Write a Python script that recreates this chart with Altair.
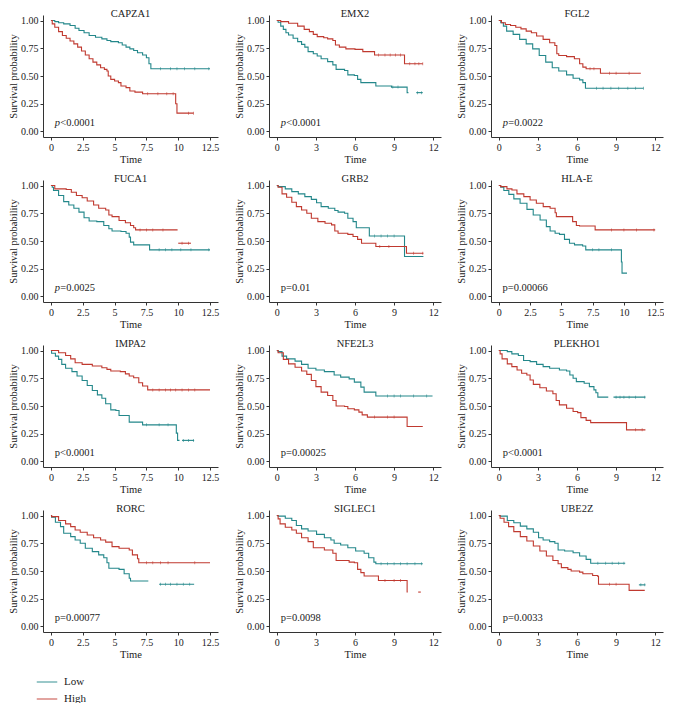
import altair as alt
import pandas as pd

TEAL = "#23878A"
RED = "#C0392F"
FONT = "Liberation Serif"

GENES = ["CAPZA1", "EMX2", "FGL2", "FUCA1", "GRB2", "HLA-E",
         "IMPA2", "NFE2L3", "PLEKHO1", "RORC", "SIGLEC1", "UBE2Z"]
P_REST = ["<0.0001", "<0.0001", "=0.0022", "=0.0025", "=0.01", "=0.00066",
          "<0.0001", "=0.00025", "<0.0001", "=0.00077", "=0.0098", "=0.0033"]
P_ITALIC = [True, True, True, True, False, False,
            False, False, False, False, False, False]
X_MAX = [12.5, 12, 12, 12.5, 12, 12.5, 12.5, 12, 12, 12.5, 12, 12]
TICKS_25 = [0, 2.5, 5, 7.5, 10, 12.5]
TICKS_3 = [0, 3, 6, 9, 12]
Y_TICKS = [0, 0.25, 0.5, 0.75, 1.0]
GROUPS = ["Low", "High"]

# (time, survival) step points; None = break in the drawn curve
CAPZA1_LOW = [(0, 1.0), (0.3, 0.99), (0.6, 0.98), (1.0, 0.97), (1.5, 0.955), (1.9, 0.93), (2.2, 0.91), (2.6, 0.89),
              (3.0, 0.865), (3.5, 0.85), (4.0, 0.835), (4.4, 0.82), (4.7, 0.81), (5.3, 0.80), (5.6, 0.78), (5.9, 0.76),
              (6.2, 0.745), (6.5, 0.73), (6.8, 0.71), (7.2, 0.69), (7.5, 0.665), (7.7, 0.61), (7.85, 0.565), (12.5, 0.565)]
CAPZA1_HIGH = [(0, 1.0), (0.1, 0.97), (0.3, 0.94), (0.6, 0.90), (0.9, 0.865), (1.2, 0.84), (1.5, 0.815), (1.8, 0.79),
               (2.1, 0.76), (2.4, 0.725), (2.7, 0.69), (3.0, 0.655), (3.3, 0.625), (3.6, 0.60), (3.9, 0.575), (4.2, 0.56),
               (4.4, 0.545), (4.5, 0.50), (4.7, 0.47), (5.0, 0.455), (5.3, 0.44), (5.5, 0.41), (5.9, 0.395), (6.2, 0.365),
               (6.6, 0.355), (7.2, 0.34), (9.8, 0.25), (9.9, 0.165), (11.2, 0.165)]
EMX2_LOW = [(0, 1.0), (0.1, 0.985), (0.3, 0.95), (0.5, 0.92), (0.7, 0.89), (0.9, 0.87), (1.25, 0.84), (1.6, 0.81),
            (1.9, 0.785), (2.15, 0.76), (2.4, 0.72), (2.8, 0.70), (3.1, 0.68), (3.4, 0.655), (3.9, 0.63), (4.3, 0.60),
            (4.55, 0.56), (5.2, 0.55), (5.45, 0.51), (5.95, 0.505), (6.2, 0.47), (6.45, 0.44), (7.6, 0.41), (8.8, 0.40),
            (10.0, 0.35), (10.1, 0.35), None, (10.7, 0.35), (11.2, 0.35)]
EMX2_HIGH = [(0, 1.0), (0.3, 0.99), (0.9, 0.975), (1.6, 0.95), (2.1, 0.92), (2.5, 0.90), (2.8, 0.875), (3.1, 0.855),
             (3.6, 0.845), (3.9, 0.835), (4.3, 0.82), (4.5, 0.78), (4.8, 0.76), (5.3, 0.745), (6.0, 0.74), (6.6, 0.72),
             (7.5, 0.69), (9.8, 0.61), (11.2, 0.61)]
FGL2_LOW = [(0, 1.0), (0.15, 0.98), (0.35, 0.95), (0.6, 0.905), (1.1, 0.875), (1.6, 0.83), (2.1, 0.79), (2.6, 0.745),
            (3.1, 0.685), (3.6, 0.625), (4.1, 0.575), (4.6, 0.545), (5.2, 0.51), (5.7, 0.48), (6.2, 0.465), (6.45, 0.44),
            (6.65, 0.39), (11.1, 0.39)]
FGL2_HIGH = [(0, 1.0), (0.2, 0.98), (0.5, 0.965), (0.9, 0.955), (1.3, 0.94), (1.7, 0.925), (2.1, 0.905), (2.5, 0.89),
             (2.9, 0.86), (3.4, 0.83), (3.9, 0.80), (4.3, 0.775), (4.45, 0.70), (4.6, 0.685), (5.2, 0.675), (5.8, 0.655),
             (6.2, 0.61), (6.45, 0.58), (6.7, 0.565), (7.8, 0.525), (10.9, 0.525)]
FUCA1_LOW = [(0, 1.0), (0.1, 0.985), (0.2, 0.955), (0.6, 0.91), (1.0, 0.855), (1.4, 0.825), (1.8, 0.795), (2.2, 0.76),
             (2.6, 0.71), (3.0, 0.68), (3.6, 0.675), (4.15, 0.64), (4.55, 0.61), (4.8, 0.59), (5.5, 0.585), (5.9, 0.57),
             (6.15, 0.535), (6.25, 0.49), (6.5, 0.465), (7.75, 0.42), (12.5, 0.42)]
FUCA1_HIGH = [(0, 1.0), (0.3, 0.97), (1.2, 0.965), (1.6, 0.94), (2.0, 0.91), (2.45, 0.89), (2.85, 0.86), (3.35, 0.825),
              (3.75, 0.795), (4.3, 0.78), (4.55, 0.735), (4.8, 0.72), (5.35, 0.685), (5.85, 0.665), (6.25, 0.64),
              (6.5, 0.62), (6.65, 0.60), (9.95, 0.60), None, (10.0, 0.48), (11.0, 0.48)]
GRB2_LOW = [(0, 1.0), (0.1, 0.99), (0.65, 0.97), (1.15, 0.945), (1.65, 0.925), (2.15, 0.90), (2.65, 0.875), (3.05, 0.845),
            (3.4, 0.81), (3.95, 0.795), (4.45, 0.775), (4.7, 0.76), (5.2, 0.75), (5.45, 0.705), (5.85, 0.675), (6.1, 0.62),
            (7.1, 0.545), (9.8, 0.36), (11.25, 0.36)]
GRB2_HIGH = [(0, 1.0), (0.1, 0.985), (0.4, 0.925), (0.75, 0.895), (1.15, 0.85), (1.5, 0.81), (1.9, 0.78), (2.3, 0.75),
             (2.65, 0.705), (3.15, 0.675), (3.7, 0.66), (4.2, 0.645), (4.45, 0.59), (4.7, 0.57), (5.45, 0.56), (5.85, 0.54),
             (6.2, 0.515), (6.5, 0.48), (7.6, 0.45), (9.95, 0.39), (11.25, 0.39)]
HLAE_LOW = [(0, 1.0), (0.15, 0.985), (0.4, 0.955), (0.8, 0.92), (1.2, 0.88), (1.7, 0.84), (2.25, 0.785), (2.75, 0.735),
            (3.3, 0.69), (3.8, 0.63), (4.1, 0.59), (4.5, 0.57), (4.85, 0.56), (5.25, 0.515), (5.65, 0.48), (6.05, 0.465),
            (6.7, 0.455), (6.95, 0.42), (9.8, 0.31), (9.85, 0.21), (10.25, 0.21)]
HLAE_HIGH = [(0, 1.0), (0.15, 0.99), (0.65, 0.97), (1.05, 0.96), (1.45, 0.925), (2.0, 0.90), (2.5, 0.87), (3.0, 0.84),
             (3.55, 0.81), (4.1, 0.795), (4.5, 0.755), (4.6, 0.72), (5.9, 0.675), (6.2, 0.64), (6.45, 0.635), (7.7, 0.60),
             (12.5, 0.60)]
IMPA2_LOW = [(0, 1.0), (0.05, 0.975), (0.35, 0.95), (0.6, 0.92), (0.85, 0.875), (1.15, 0.84), (1.65, 0.81), (2.05, 0.77),
             (2.45, 0.73), (2.85, 0.685), (3.25, 0.64), (3.65, 0.60), (4.0, 0.57), (4.3, 0.52), (4.7, 0.465), (5.1, 0.46),
             (5.35, 0.415), (6.15, 0.355), (7.2, 0.33), (9.85, 0.255), (9.95, 0.19), (10.1, 0.19), None,
             (10.3, 0.19), (11.25, 0.19)]
IMPA2_HIGH = [(0, 1.0), (0.6, 0.98), (1.15, 0.955), (1.55, 0.925), (1.9, 0.89), (2.45, 0.875), (3.25, 0.86), (4.0, 0.845),
              (4.4, 0.83), (4.7, 0.815), (5.45, 0.81), (5.85, 0.79), (6.15, 0.77), (6.5, 0.755), (6.9, 0.71), (7.2, 0.68),
              (7.6, 0.645), (12.5, 0.645)]
NFE2L3_LOW = [(0, 1.0), (0.1, 0.99), (0.4, 0.95), (0.75, 0.925), (1.4, 0.905), (1.9, 0.875), (2.4, 0.84), (3.0, 0.825),
              (3.65, 0.81), (4.4, 0.78), (4.9, 0.76), (5.55, 0.745), (5.95, 0.715), (6.45, 0.67), (6.7, 0.625), (7.6, 0.59),
              (11.95, 0.59)]
NFE2L3_HIGH = [(0, 1.0), (0.1, 0.98), (0.5, 0.92), (0.9, 0.88), (1.4, 0.85), (1.9, 0.815), (2.3, 0.785), (2.65, 0.73),
               (3.0, 0.675), (3.4, 0.625), (3.9, 0.595), (4.3, 0.55), (4.55, 0.50), (5.2, 0.495), (5.45, 0.475),
               (5.95, 0.465), (6.3, 0.445), (6.55, 0.42), (6.95, 0.40), (10.0, 0.315), (11.2, 0.315)]
PLEKHO1_LOW = [(0, 1.0), (0.65, 0.99), (1.0, 0.97), (1.5, 0.955), (1.9, 0.91), (2.4, 0.90), (2.9, 0.875), (3.4, 0.855),
               (3.9, 0.84), (4.65, 0.825), (5.2, 0.815), (5.45, 0.78), (5.7, 0.75), (5.95, 0.72), (6.55, 0.705),
               (6.95, 0.675), (7.3, 0.645), (7.45, 0.62), (7.6, 0.58), (8.4, 0.58), None, (8.8, 0.58), (11.25, 0.58)]
PLEKHO1_HIGH = [(0, 1.0), (0.1, 0.97), (0.25, 0.925), (0.65, 0.88), (1.0, 0.855), (1.4, 0.825), (1.75, 0.795),
                (2.15, 0.78), (2.4, 0.735), (2.65, 0.695), (3.15, 0.665), (3.65, 0.635), (4.15, 0.61), (4.4, 0.55),
                (4.65, 0.51), (5.2, 0.48), (5.7, 0.45), (6.05, 0.44), (6.3, 0.395), (6.7, 0.37), (7.05, 0.35),
                (9.8, 0.285), (11.25, 0.285)]
RORC_LOW = [(0, 1.0), (0.05, 0.985), (0.35, 0.94), (0.75, 0.90), (1.0, 0.84), (1.55, 0.81), (1.9, 0.78), (2.3, 0.75),
            (2.7, 0.705), (3.25, 0.675), (3.75, 0.645), (4.15, 0.62), (4.4, 0.575), (4.55, 0.525), (5.35, 0.515),
            (5.75, 0.475), (6.15, 0.435), (6.25, 0.41), (7.65, 0.41), None, (8.5, 0.38), (11.25, 0.38)]
RORC_HIGH = [(0, 1.0), (0.05, 0.99), (0.6, 0.955), (1.15, 0.925), (1.55, 0.90), (1.9, 0.87), (2.3, 0.85), (2.85, 0.825),
             (3.35, 0.80), (3.9, 0.78), (4.3, 0.76), (4.8, 0.72), (5.35, 0.705), (6.15, 0.69), (6.4, 0.645), (6.8, 0.61),
             (6.9, 0.575), (12.5, 0.575)]
SIGLEC1_LOW = [(0, 1.0), (0.1, 0.995), (0.65, 0.975), (1.15, 0.955), (1.5, 0.91), (1.9, 0.88), (2.4, 0.86), (3.05, 0.83),
               (3.65, 0.80), (4.15, 0.78), (4.4, 0.75), (4.9, 0.735), (5.45, 0.71), (6.05, 0.68), (6.7, 0.66),
               (7.05, 0.62), (7.45, 0.58), (7.6, 0.565), (11.2, 0.565)]
SIGLEC1_HIGH = [(0, 1.0), (0.1, 0.97), (0.25, 0.925), (0.65, 0.895), (1.15, 0.87), (1.5, 0.84), (1.9, 0.80),
                (2.4, 0.765), (2.8, 0.71), (3.65, 0.69), (4.3, 0.66), (4.55, 0.595), (5.55, 0.58), (5.95, 0.575),
                (6.2, 0.515), (6.45, 0.485), (6.7, 0.455), (7.8, 0.415), (10.0, 0.31), (10.05, 0.31), None,
                (10.85, 0.31), (11.05, 0.31)]
UBE2Z_LOW = [(0, 1.0), (0.1, 0.995), (0.65, 0.955), (1.15, 0.935), (1.65, 0.905), (2.15, 0.88), (2.65, 0.85),
             (3.05, 0.80), (3.4, 0.78), (3.9, 0.765), (4.3, 0.75), (4.55, 0.69), (5.05, 0.68), (5.7, 0.665), (6.2, 0.635),
             (6.7, 0.605), (7.05, 0.57), (9.7, 0.57), None, (10.75, 0.375), (11.25, 0.375)]
UBE2Z_HIGH = [(0, 1.0), (0.1, 0.975), (0.4, 0.94), (0.75, 0.90), (1.15, 0.855), (1.65, 0.81), (2.15, 0.77), (2.65, 0.725),
              (3.15, 0.68), (3.65, 0.635), (4.15, 0.595), (4.55, 0.565), (4.8, 0.53), (5.3, 0.515), (5.55, 0.50),
              (6.2, 0.49), (6.45, 0.475), (7.2, 0.46), (7.6, 0.45), (7.65, 0.38), (10.0, 0.325), (11.2, 0.325)]

LOW = [CAPZA1_LOW, EMX2_LOW, FGL2_LOW, FUCA1_LOW, GRB2_LOW, HLAE_LOW,
       IMPA2_LOW, NFE2L3_LOW, PLEKHO1_LOW, RORC_LOW, SIGLEC1_LOW, UBE2Z_LOW]
HIGH = [CAPZA1_HIGH, EMX2_HIGH, FGL2_HIGH, FUCA1_HIGH, GRB2_HIGH, HLAE_HIGH,
        IMPA2_HIGH, NFE2L3_HIGH, PLEKHO1_HIGH, RORC_HIGH, SIGLEC1_HIGH, UBE2Z_HIGH]

# censoring marks: (group, survival level, times)
CENSOR = [
    [("Low", 0.565, [8.6, 9.4, 9.9, 10.5, 11.3, 12.4]), ("High", 0.34, [7.6, 8.4, 9.1, 9.6]), ("High", 0.165, [10.8, 11.2])],
    [("High", 0.69, [7.8, 8.3, 8.7, 9.1, 9.5]), ("High", 0.61, [10.2, 10.6, 10.9, 11.2]), ("Low", 0.40, [8.9, 9.3]),
     ("Low", 0.35, [10.8, 11.1])],
    [("High", 0.565, [7.0, 7.3]), ("High", 0.525, [8.5, 9.0, 10.0]), ("Low", 0.39, [7.5, 8.0, 8.6, 9.2, 9.9, 10.5, 11.1])],
    [("High", 0.60, [7.0, 7.5, 8.0, 8.8]), ("High", 0.48, [10.3, 10.8]), ("Low", 0.42, [8.5, 9.0, 9.5, 10.2, 11.0, 12.4])],
    [("Low", 0.545, [7.5, 8.0, 8.5, 9.0]), ("High", 0.45, [7.9, 8.6]), ("High", 0.39, [10.5, 11.2])],
    [("High", 0.60, [9.0, 10.0, 11.0, 12.4]), ("Low", 0.42, [7.5, 8.0, 9.0])],
    [("High", 0.645, [8.0, 8.5, 9.0, 9.4, 9.8, 10.3, 10.8, 11.3]), ("Low", 0.33, [7.5, 8.5, 9.2]),
     ("Low", 0.19, [10.4, 10.8, 11.2])],
    [("Low", 0.59, [8.5, 9.0, 9.5, 10.5, 11.5]), ("High", 0.40, [7.5, 8.5, 9.0])],
    [("Low", 0.58, [9.0, 9.3, 9.6, 10.0, 10.5, 11.2]), ("High", 0.285, [10.5, 11.0])],
    [("High", 0.575, [7.5, 8.0, 8.6, 9.2, 11.3]), ("Low", 0.38, [8.6, 9.0, 9.4, 9.9, 10.4, 10.9])],
    [("Low", 0.565, [8.0, 8.5, 9.0, 9.5, 10.0, 10.6, 11.1]), ("High", 0.415, [8.3, 9.0, 9.5])],
    [("Low", 0.57, [7.6, 8.2, 8.7, 9.2, 9.6]), ("Low", 0.375, [10.9, 11.2]), ("High", 0.38, [8.5, 9.0])],
]

P_POS_T = 0.3
P_POS_S = 0.075

COL_W = [175, 172, 172]
H = 122


def curve_frame(low, high):
    rows = []
    for grp, pts in (("Low", low), ("High", high)):
        seg = 0
        for p in pts:
            if p is None:
                seg += 1
                continue
            rows.append({"t": p[0], "s": p[1], "group": grp, "seg": f"{grp}-{seg}"})
    return pd.DataFrame(rows)


def censor_frame(cens):
    rows = []
    for grp, lev, times in cens:
        for t in times:
            rows.append({"t": t, "s": lev, "group": grp})
    return pd.DataFrame(rows)


LEGEND = alt.Legend(title=None, orient="none", legendX=-7, legendY=656, symbolType="stroke",
                    symbolStrokeWidth=1.3, symbolSize=420, labelFont=FONT, labelFontSize=11,
                    labelColor="#222", rowPadding=1, labelOffset=6)
COLOR_SCALE = alt.Scale(domain=GROUPS, range=[TEAL, RED])


def panel(i, width):
    xmax = X_MAX[i]
    ticks = TICKS_25 if xmax == 12.5 else TICKS_3
    xs = alt.Scale(domain=[-0.05 * xmax, 1.05 * xmax], nice=False, zero=False)
    ys = alt.Scale(domain=[-0.05, 1.05], nice=False, zero=False)
    xax = alt.Axis(values=ticks, format=".3~g", title="Time", labelOverlap=False)
    yax = alt.Axis(values=Y_TICKS, format=".2f", title="Survival probability", labelOverlap=False)
    enc = dict(x=alt.X("t:Q", scale=xs, axis=xax), y=alt.Y("s:Q", scale=ys, axis=yax))
    color = alt.Color("group:N", scale=COLOR_SCALE, legend=LEGEND)
    df = curve_frame(LOW[i], HIGH[i])
    lines = alt.Chart(df).mark_line(interpolate="step-after", strokeWidth=1.1, clip=True).encode(
        color=color, detail="seg:N", **enc)
    cens = alt.Chart(censor_frame(CENSOR[i])).mark_tick(orient="vertical", size=3, thickness=0.8).encode(
        color=color, **enc)
    layers = [lines, cens]
    tdf = pd.DataFrame({"t": [P_POS_T], "s": [P_POS_S], "p": ["p"], "rest": [P_REST[i]],
                        "full": ["p" + P_REST[i]]})
    if P_ITALIC[i]:
        layers.append(alt.Chart(tdf).mark_text(align="left", baseline="middle", font=FONT, fontSize=10.5,
                                               fontStyle="italic", color="#222").encode(text="p:N", **enc))
        layers.append(alt.Chart(tdf).mark_text(align="left", baseline="middle", font=FONT, fontSize=10.5,
                                               dx=5.5, color="#222").encode(text="rest:N", **enc))
    else:
        layers.append(alt.Chart(tdf).mark_text(align="left", baseline="middle", font=FONT, fontSize=10.5,
                                               color="#222").encode(text="full:N", **enc))
    return alt.layer(*layers).properties(
        width=width, height=H,
        title=alt.TitleParams(GENES[i], offset=-4, anchor="middle", frame="group"),
    )


rows = []
for r in range(4):
    rows.append(alt.hconcat(*[panel(r * 3 + c, COL_W[c]) for c in range(3)], spacing=15)
                .resolve_scale(x="independent", y="independent", color="shared"))

chart = alt.vconcat(*rows, spacing=8).resolve_scale(
    x="independent", y="independent", color="shared"
).properties(padding=0).configure_view(stroke=None).configure_axis(
    grid=False, labelFont=FONT, titleFont=FONT, labelColor="#222", titleColor="#222",
    domainColor="#333", tickColor="#333", tickSize=3, labelFontSize=10, titleFontSize=10.5,
    titleFontWeight="normal", labelPadding=2, titlePadding=2,
).configure_title(font=FONT, fontSize=10.5, fontWeight="normal", color="#222")

chart.save("out.html", embed_options={"renderer": "svg", "actions": False})
